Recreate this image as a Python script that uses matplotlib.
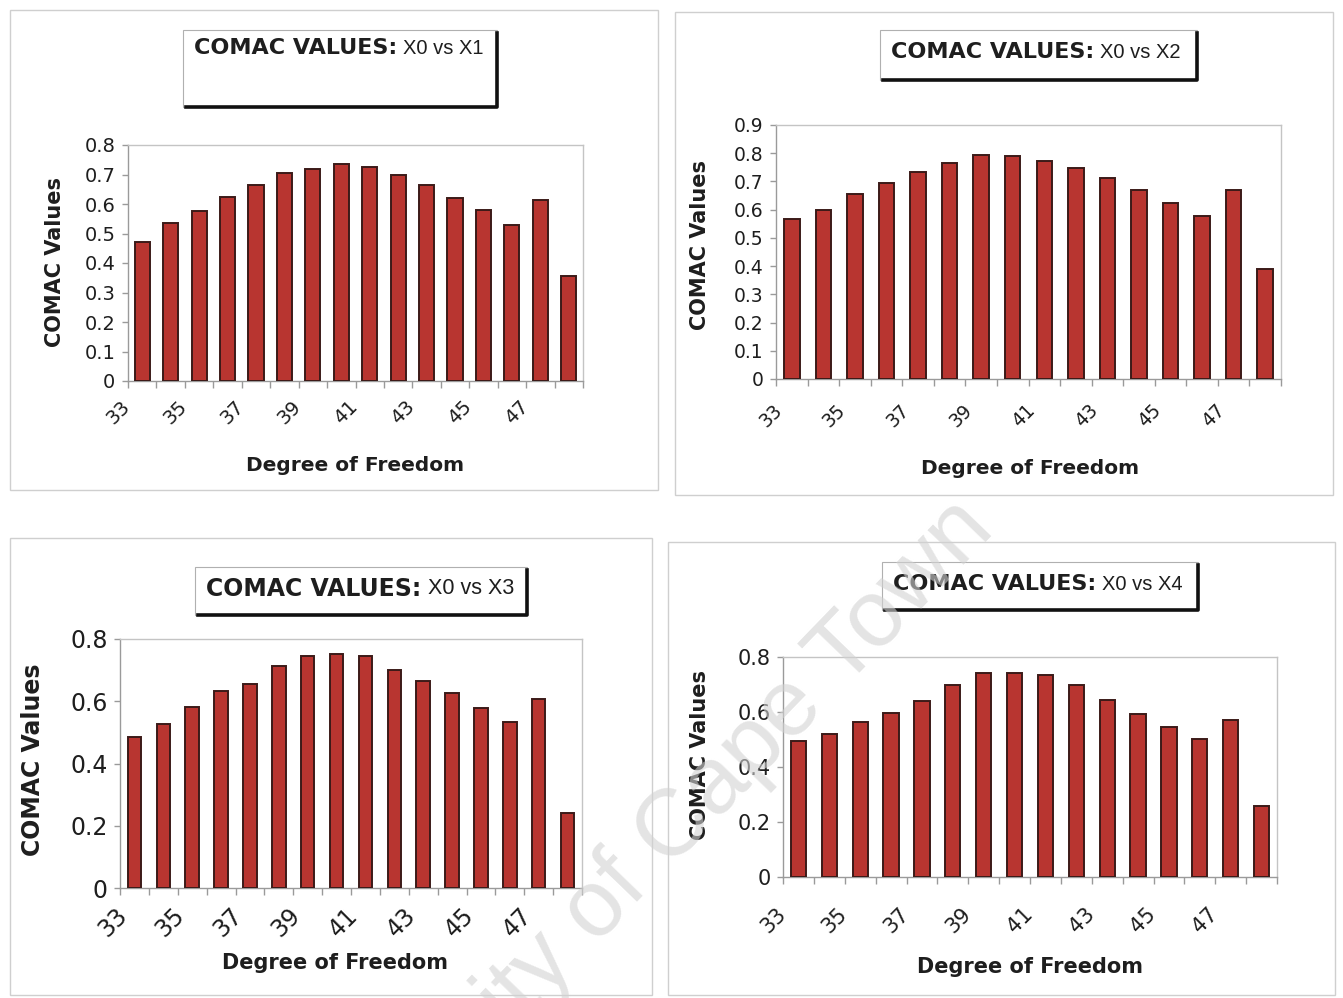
import numpy as np
import matplotlib
matplotlib.use("Agg")
import matplotlib.pyplot as plt
from matplotlib.patches import Rectangle
from matplotlib.lines import Line2D
from matplotlib.transforms import ScaledTranslation

# ---- data -------------------------------------------------------------
dof = [33, 34, 35, 36, 37, 38, 39, 40, 41, 42, 43, 44, 45, 46, 47, 48]
tick_labels = ["33", "35", "37", "39", "41", "43", "45", "47"]

comac_x1 = [0.47, 0.535, 0.575, 0.625, 0.665, 0.705, 0.72, 0.735,
            0.725, 0.70, 0.665, 0.62, 0.58, 0.528, 0.613, 0.355]
comac_x2 = [0.568, 0.60, 0.655, 0.693, 0.733, 0.766, 0.792, 0.79,
            0.772, 0.746, 0.712, 0.668, 0.624, 0.578, 0.668, 0.39]
comac_x3 = [0.485, 0.527, 0.582, 0.632, 0.656, 0.712, 0.746, 0.752,
            0.744, 0.702, 0.665, 0.626, 0.578, 0.534, 0.607, 0.24]
comac_x4 = [0.494, 0.52, 0.563, 0.598, 0.641, 0.698, 0.742, 0.742,
            0.734, 0.699, 0.645, 0.592, 0.545, 0.502, 0.57, 0.26]

titles = ["X0 vs X1", "X0 vs X2", "X0 vs X3", "X0 vs X4"]

# ---- figure -----------------------------------------------------------
W, H = 1343, 998
fig = plt.figure(figsize=(W / 100, H / 100), dpi=100)
fig.patch.set_facecolor("white")

BAR_FACE = "#b83530"
BAR_EDGE = "#3b1a18"
AXIS_GRAY = "#9a9a9a"
TEXT = "#1e1e1e"


def fx(x):
    return x / W


def fy(y):
    return 1 - y / H


panels = [
    dict(values=comac_x1, title=titles[0], ax=(128, 583, 145, 381), ymax=0.8, ystep=0.1,
         outer=(10, 658, 10, 490), box=(183, 497, 30, 107), title_xy=(339, 48),
         ylab_xy=(55, 262), xlab_xy=(355, 465), tick_fs=14, ylab_fs=15, xlab_fs=14.5,
         title_fs=16, lab_off=(-15, 23), bw=0.53),
    dict(values=comac_x2, title=titles[1], ax=(776, 1281, 125, 379), ymax=0.9, ystep=0.1,
         outer=(675, 1333, 12, 495), box=(880, 1197, 30, 80), title_xy=(1036, 52),
         ylab_xy=(700, 245), xlab_xy=(1030, 468), tick_fs=13.5, ylab_fs=15, xlab_fs=14.5,
         title_fs=16, lab_off=(-12, 28), bw=0.49),
    dict(values=comac_x3, title=titles[2], ax=(120, 582, 639, 888), ymax=0.8, ystep=0.2,
         outer=(10, 652, 538, 995), box=(195, 527, 567, 615), title_xy=(360, 589),
         ylab_xy=(33, 760), xlab_xy=(335, 963), tick_fs=17, ylab_fs=17, xlab_fs=15,
         title_fs=17, lab_off=(-11, 24), bw=0.47),
    dict(values=comac_x4, title=titles[3], ax=(783, 1277, 657, 877), ymax=0.8, ystep=0.2,
         outer=(668, 1335, 542, 995), box=(882, 1198, 562, 610), title_xy=(1038, 584),
         ylab_xy=(700, 755), xlab_xy=(1030, 967), tick_fs=15, ylab_fs=15, xlab_fs=15,
         title_fs=16, lab_off=(-16, 34), bw=0.49),
]

renderer = fig.canvas.get_renderer()

for p in panels:
    # outer chart-area border
    x0, x1, y0, y1 = p["outer"]
    fig.add_artist(Rectangle((fx(x0), fy(y1)), fx(x1) - fx(x0), fy(y0) - fy(y1),
                             transform=fig.transFigure, fill=False,
                             edgecolor="#cfcfcf", lw=1.0))

    # plot area
    l, r, t, b = p["ax"]
    ax = fig.add_axes([fx(l), fy(b), fx(r) - fx(l), fy(t) - fy(b)])
    x = np.arange(len(dof))
    ax.bar(x, p["values"], width=p["bw"], color=BAR_FACE, edgecolor=BAR_EDGE,
           linewidth=1.4, zorder=3)
    ax.set_xlim(-0.5, len(dof) - 0.5)
    ax.set_ylim(0, p["ymax"])

    for side in ["top", "right", "left", "bottom"]:
        ax.spines[side].set_color(AXIS_GRAY)
        ax.spines[side].set_linewidth(1.0)
    ax.spines["top"].set_color("#c4c4c4")
    ax.spines["right"].set_color("#c4c4c4")

    yt = np.round(np.arange(0, p["ymax"] + 1e-9, p["ystep"]), 2)
    ax.set_yticks(yt)
    ax.set_yticklabels(["0" if v == 0 else f"{v:.1f}" for v in yt],
                       fontsize=p["tick_fs"], color=TEXT)
    ax.tick_params(axis="y", direction="out", length=4, width=1,
                   color=AXIS_GRAY, pad=5)

    # category boundaries carry the tick marks, labels are drawn separately
    ax.set_xticks(np.arange(-0.5, len(dof), 1.0))
    ax.set_xticklabels([])
    ax.tick_params(axis="x", direction="out", length=5, width=1, color=AXIS_GRAY)

    dx, dy = p["lab_off"]
    off = ScaledTranslation(dx / 100, -dy / 100, fig.dpi_scale_trans)
    for i, lab in enumerate(tick_labels):
        ax.text(2 * i, 0, lab, transform=ax.get_xaxis_transform() + off,
                rotation=45, rotation_mode="anchor", ha="right", va="center",
                fontsize=p["tick_fs"], color=TEXT)

    # axis titles
    fig.text(fx(p["ylab_xy"][0]), fy(p["ylab_xy"][1]), "COMAC Values",
             rotation=90, ha="center", va="center", fontsize=p["ylab_fs"],
             fontweight="bold", color=TEXT)
    fig.text(fx(p["xlab_xy"][0]), fy(p["xlab_xy"][1]), "Degree of Freedom",
             ha="center", va="center", fontsize=p["xlab_fs"],
             fontweight="bold", color=TEXT)

    # chart title box with drop shadow
    bx0, bx1, by0, by1 = p["box"]
    fig.add_artist(Rectangle((fx(bx0), fy(by1)), fx(bx1) - fx(bx0), fy(by0) - fy(by1),
                             transform=fig.transFigure, fill=True,
                             facecolor="white", edgecolor="#b0b0b0", lw=0.8))
    fig.add_artist(Line2D([fx(bx0 + 3), fx(bx1), fx(bx1)],
                          [fy(by1), fy(by1), fy(by0 + 3)],
                          transform=fig.transFigure, color="#111111", lw=2.6))

    cx, cy = p["title_xy"]
    t_bold = fig.text(0, fy(cy), "COMAC VALUES:", fontsize=p["title_fs"],
                      fontweight="bold", ha="left", va="center", color=TEXT)
    t_reg = fig.text(0, fy(cy), p["title"], fontsize=p["title_fs"] - 1.5,
                     family="Liberation Sans", ha="left", va="center", color=TEXT)
    wb = t_bold.get_window_extent(renderer).width
    wr = t_reg.get_window_extent(renderer).width
    gap = 6
    left = cx - (wb + gap + wr) / 2
    t_bold.set_x(fx(left))
    t_reg.set_x(fx(left + wb + gap))

# institutional watermark
fig.text(fx(625), fy(880), "University of Cape Town", rotation=46,
         rotation_mode="anchor", ha="center", va="center", fontsize=68,
         family="Liberation Sans", color="#d2d2d2", alpha=0.6, zorder=10)

fig.savefig("out.png", dpi=100, facecolor="white")
